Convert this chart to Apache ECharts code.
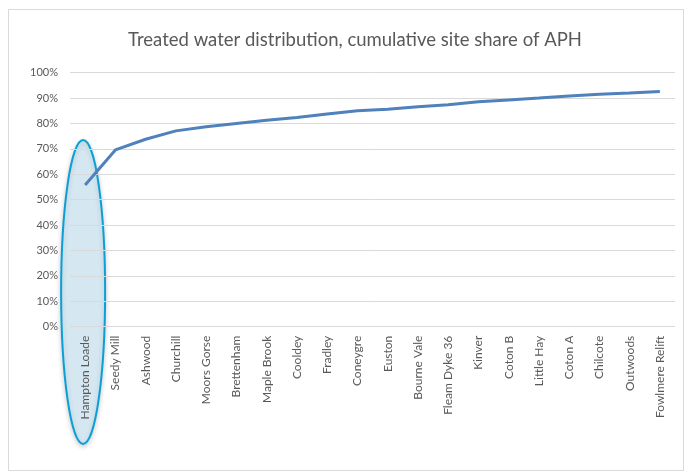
<!DOCTYPE html>
<html>
<head>
<meta charset="utf-8">
<script src="https://cdn.jsdelivr.net/npm/echarts@6/dist/echarts.min.js"></script>
<style>
  html, body { margin: 0; padding: 0; background: #ffffff; }
  #chart { width: 685px; height: 472px; }
</style>
</head>
<body>
<div id="chart"></div>
<script>
// Sites in order of contribution
const sites = [
  'Hampton Loade', 'Seedy Mill', 'Ashwood', 'Churchill', 'Moors Gorse',
  'Brettenham', 'Maple Brook', 'Cooldey', 'Fradley', 'Coneygre',
  'Euston', 'Bourne Vale', 'Fleam Dyke 36', 'Kinver', 'Coton B',
  'Little Hay', 'Coton A', 'Chilcote', 'Outwoods', 'Fowlmere Relift'
];
// Cumulative share of APH, percent
const cumulativeShare = [
  55.8, 69.6, 73.8, 77.1, 78.7,
  80.0, 81.3, 82.4, 83.7, 85.0,
  85.6, 86.6, 87.4, 88.6, 89.3,
  90.0, 90.8, 91.5, 92.0, 92.6
];
// Value axis ticks
const yMin = 0, yMax = 100, yStep = 10;

const textColor = '#595959';
const font = 'Lato, "Open Sans", sans-serif';

const chart = echarts.init(document.getElementById('chart'), null, { renderer: 'canvas' });

chart.setOption({
  animation: false,
  backgroundColor: '#ffffff',
  title: {
    text: 'Treated water distribution, cumulative site share of APH',
    left: 350,
    textAlign: 'center',
    top: 26,
    textStyle: { color: textColor, fontFamily: font, fontSize: 18.5, fontWeight: 'normal' }
  },
  grid: { left: 70, right: 10, top: 72.7, bottom: 145.3, containLabel: false },
  xAxis: {
    type: 'category',
    data: sites,
    boundaryGap: true,
    z: 3,
    axisLine: { show: false },
    axisTick: { show: false },
    axisLabel: {
      interval: 0,
      rotate: 90,
      margin: 9,
      color: textColor,
      fontFamily: font,
      fontSize: 12
    }
  },
  yAxis: {
    type: 'value',
    min: yMin,
    max: yMax,
    interval: yStep,
    z: 3,
    axisLine: { show: false },
    axisTick: { show: false },
    splitLine: { lineStyle: { color: '#d9d9d9', width: 1 } },
    axisLabel: {
      margin: 12,
      color: textColor,
      fontFamily: font,
      fontSize: 11,
      formatter: v => v + '%'
    }
  },
  series: [{
    type: 'line',
    data: cumulativeShare,
    symbol: 'none',
    z: 4,
    lineStyle: { color: '#4f81bd', width: 3 }
  }]
});

// Outer frame and the highlight ellipse around the leading site
const cx = chart.convertToPixel({ xAxisIndex: 0 }, sites[0]) - 2;
chart.setOption({
  graphic: [
    {
      type: 'rect',
      silent: true,
      z: 0,
      shape: { x: 8.5, y: 9.5, width: 675, height: 461 },
      style: { fill: 'none', stroke: '#d9d9d9', lineWidth: 1 }
    },
    {
      type: 'ellipse',
      silent: true,
      z: 1,
      shape: { cx: cx, cy: 292, rx: 22, ry: 152 },
      style: {
        fill: '#d5e8f1',
        stroke: '#0b9fd8',
        lineWidth: 2,
        shadowBlur: 5,
        shadowOffsetY: 2,
        shadowColor: 'rgba(0,0,0,0.18)'
      }
    }
  ]
});
</script>
</body>
</html>
